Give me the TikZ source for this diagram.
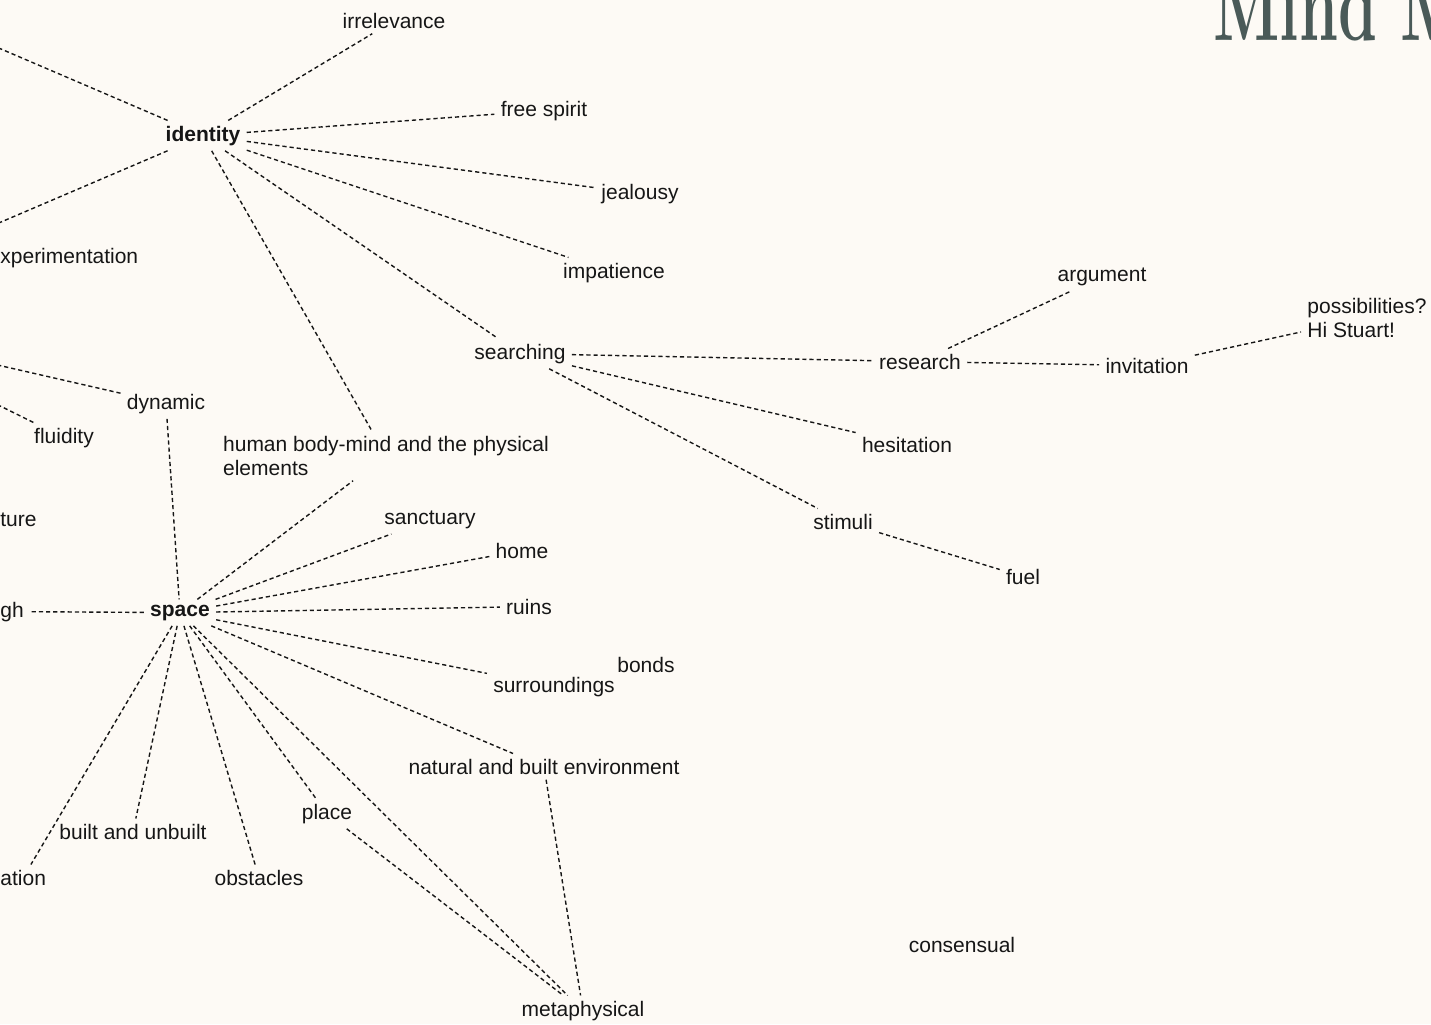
\documentclass[tikz,border=0pt]{standalone}
\usepackage{fontspec}
\setmainfont{Liberation Sans}
\newfontfamily\titlefont{Latin Modern Roman}
\definecolor{bg}{RGB}{253,250,245}
\definecolor{ink}{RGB}{22,22,22}
\definecolor{titlecol}{RGB}{74,90,88}
\begin{document}
\begin{tikzpicture}[x=0.5pt,y=-0.5pt]
\tikzset{
  lbl/.style={font=\fontsize{10.5}{12}\selectfont, text=ink, inner xsep=3pt, inner ysep=2.5pt, align=left, yshift=-0.8pt},
  hub/.style={lbl, font=\fontsize{10.5}{12}\selectfont\bfseries},
  link/.style={draw=ink, line width=0.7pt, dash pattern=on 2.1pt off 1.5pt},
}
\useasboundingbox (0,0) rectangle (1431,1024);
\fill[bg] (0,0) rectangle (1431,1024);
\clip (0,0) rectangle (1431,1024);

% title
\node[anchor=base west, inner sep=0, text=titlecol] (title) at (1213,40)
  {\scalebox{0.6}[1]{\titlefont\fontsize{52}{52}\selectfont\bfseries Mind M}};

% nodes
\node[hub] (identity) at (203,134) {identity};
\node[lbl] (irrelevance) at (394,19) {irrelevance};
\node[lbl] (freespirit) at (544,109) {free spirit};
\node[lbl] (jealousy) at (640,192) {jealousy};
\node[lbl] (impatience) at (614,271) {impatience};
\node[lbl, anchor=west, inner xsep=0pt] (experim) at (0,256) {xperimentation};
\node[lbl] (searching) at (520,352) {searching};
\node[lbl] (research) at (920,360) {research};
\node[lbl] (argument) at (1102,275) {argument};
\node[lbl] (invitation) at (1147,364) {invitation};
\node[lbl] (possib) at (1367,316) {possibilities?\\Hi Stuart!};
\node[lbl] (hesitation) at (907,443) {hesitation};
\node[lbl] (stimuli) at (843,520) {stimuli};
\node[lbl] (fuel) at (1023,575) {fuel};
\node[lbl] (dynamic) at (166,402) {dynamic};
\node[lbl] (fluidity) at (64,436) {fluidity};
\node[lbl] (human) at (386,454) {human body-mind and the physical\\elements};
\node[lbl, anchor=west, inner xsep=0pt] (ture) at (0,518) {ture};
\node[lbl, anchor=west, inner xsep=3pt] (gh) at (-6,610) {gh};
\node[hub] (space) at (180,611) {space};
\node[lbl] (sanctuary) at (430,518) {sanctuary};
\node[lbl] (home) at (522,549) {home};
\node[lbl] (ruins) at (529,605) {ruins};
\node[lbl] (bonds) at (646,663) {bonds};
\node[lbl] (surroundings) at (554,685) {surroundings};
\node[lbl] (natural) at (544,765) {natural and built environment};
\node[lbl] (place) at (327,812) {place};
\node[lbl] (builtun) at (133,830) {built and unbuilt};
\node[lbl] (obstacles) at (259,876) {obstacles};
\node[lbl, anchor=west, inner xsep=3pt] (ation) at (-6,876) {ation};
\node[lbl] (metaphysical) at (583,1009) {metaphysical};
\node[lbl] (consensual) at (962,943) {consensual};

% off-canvas ends
\coordinate (offA) at (-20,40);
\coordinate (offB) at (-20,231);
\coordinate (offC) at (-20,361);
\coordinate (offD) at (-20,396);

% connectors
\draw[link] (identity) -- (offA);
\draw[link] (identity) -- (offB);
\draw[link] (identity) -- (irrelevance);
\draw[link] (identity) -- (freespirit);
\draw[link] (identity) -- (jealousy);
\draw[link] (identity) -- (impatience);
\draw[link] (identity) -- (searching);
\draw[link] (identity) -- (human);
\draw[link] (searching) -- (research);
\draw[link] (searching) -- (hesitation);
\draw[link] (searching) -- (stimuli);
\draw[link] (research) -- (argument);
\draw[link] (research) -- (invitation);
\draw[link] (invitation) -- (possib);
\draw[link] (stimuli) -- (fuel);
\draw[link] (dynamic) -- (offC);
\draw[link] (fluidity) -- (offD);
\draw[link] (dynamic) -- (space);
\draw[link] (space) -- (human);
\draw[link] (space) -- (sanctuary);
\draw[link] (space) -- (home);
\draw[link] (space) -- (ruins);
\draw[link] (space) -- (surroundings);
\draw[link] (space) -- (natural);
\draw[link] (space) -- (gh);
\draw[link] (space) -- (ation);
\draw[link] (space) -- (builtun);
\draw[link] (space) -- (obstacles);
\draw[link] (space) -- (place);
\draw[link] (space) -- (metaphysical);
\draw[link] (place) -- (metaphysical);
\draw[link] (natural) -- (metaphysical);
\end{tikzpicture}
\end{document}
